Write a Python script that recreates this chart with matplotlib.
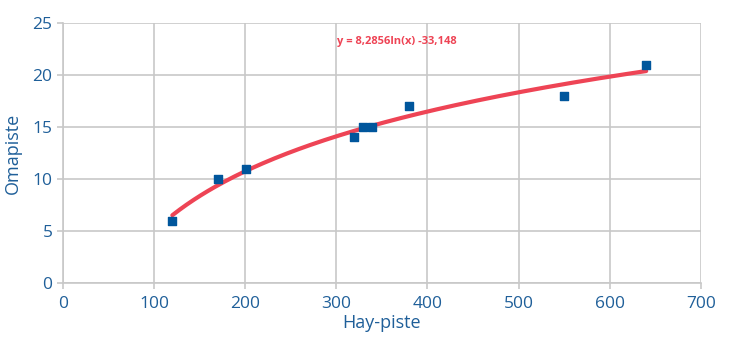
import numpy as np
import matplotlib
matplotlib.use("Agg")
from matplotlib import pyplot as plt

# Mittauspisteet
hay_piste = [120, 170, 201, 319, 329, 339, 380, 550, 640]
oma_piste = [6, 10, 11, 14, 15, 15, 17, 18, 21]

# Logaritminen trendiviiva
a, b = 8.2856, -33.148
equation = "y = 8,2856ln(x) -33,148"

x_ticks = [0, 100, 200, 300, 400, 500, 600, 700]
y_ticks = [0, 5, 10, 15, 20, 25]

blue = "#1f5f99"
grid = "#c8c8c8"

plt.rcParams["font.family"] = ["Open Sans", "DejaVu Sans"]

fig = plt.figure(figsize=(7.29, 3.40), dpi=100)
ax = fig.add_axes([0.0864, 0.1676, 0.875, 0.7644])

xs = np.linspace(min(hay_piste), max(hay_piste), 200)
ax.plot(xs, a * np.log(xs) + b, color="#ee4455", lw=3, zorder=3,
        solid_capstyle="round")
ax.scatter(hay_piste, oma_piste, marker="s", s=34, color="#00569c", zorder=4)

ax.text(301, 23.2, equation, color="#ee4455", fontsize=8,
        fontweight="bold", va="center", ha="left")

ax.set_xlim(0, 700)
ax.set_ylim(0, 25)
ax.set_xticks(x_ticks)
ax.set_yticks(y_ticks)
ax.grid(True, color=grid, lw=1.2)
ax.set_axisbelow(True)
for s in ["top", "right"]:
    ax.spines[s].set_visible(False)
for s in ["left", "bottom"]:
    ax.spines[s].set_color(grid)
    ax.spines[s].set_linewidth(1.2)
ax.tick_params(colors=blue, labelsize=12.5, length=4, width=1.2)
ax.tick_params(axis="both", color=grid)
ax.tick_params(axis="x", pad=5)

ax.set_xlabel("Hay-piste", color=blue, fontsize=13, labelpad=2)
ax.set_ylabel("Omapiste", color=blue, fontsize=13, labelpad=8)

fig.savefig("out.png", dpi=100)
